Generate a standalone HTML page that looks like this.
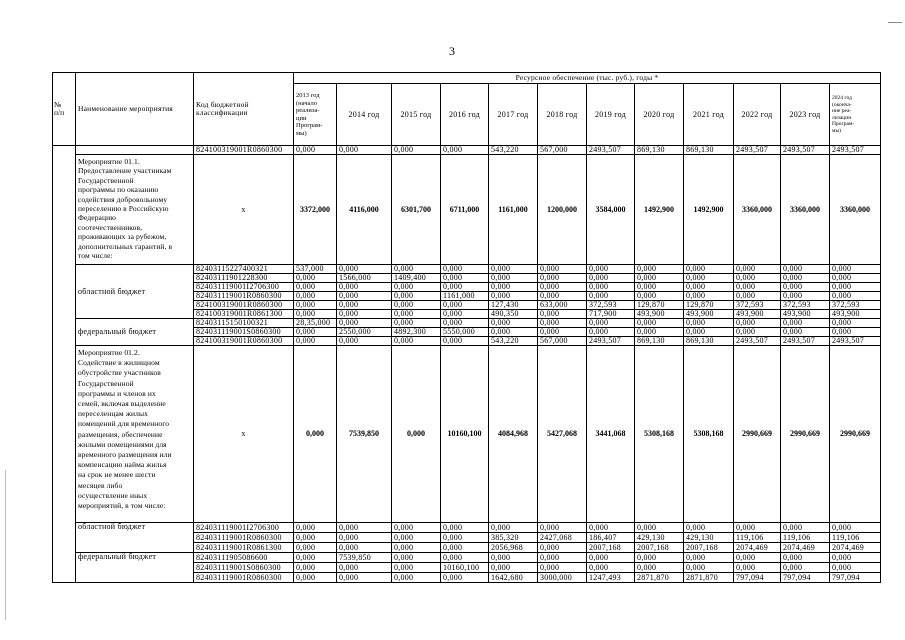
<!DOCTYPE html>
<html><head><meta charset="utf-8"><style>
body{margin:0;width:905px;height:640px;background:#fff;position:relative;overflow:hidden;font-family:"Liberation Serif",serif;color:#000}
table{position:absolute;left:52px;top:72px;border-collapse:collapse;table-layout:fixed;font-size:8px;letter-spacing:0.25px}
td{border:1px solid #000;padding:0 2px;overflow:hidden;white-space:nowrap;line-height:8px;vertical-align:middle}
.c{text-align:center}
.b{font-weight:bold;text-align:center;font-size:8px;letter-spacing:0}
.t td{height:8px}
.u td{height:9px}
</style></head><body>
<div style="position:absolute;left:449px;top:44px;font-size:12px">3</div>
<div style="position:absolute;left:888px;top:22px;width:14px;height:1px;background:#888"></div>
<table>
<colgroup><col style="width:23px"><col style="width:118px"><col style="width:100px"><col style="width:43px"><col style="width:55px"><col style="width:49px"><col style="width:48px"><col style="width:49px"><col style="width:49px"><col style="width:48px"><col style="width:49px"><col style="width:50px"><col style="width:47px"><col style="width:49px"><col style="width:51px"></colgroup>
<tr style="height:11px"><td rowspan="2" style="padding-left:1px;font-size:7.5px;letter-spacing:0">№<br>п/п</td><td rowspan="2" style="font-size:7.5px;letter-spacing:0.2px">Наименование мероприятия</td><td rowspan="2" style="font-size:7.5px;letter-spacing:0.2px">Код бюджетной<br>классификации</td><td colspan="12" class="c" style="font-size:7.5px;letter-spacing:0.2px">Ресурсное обеспечение (тыс. руб.), годы *</td></tr>
<tr style="height:62px"><td style="font-size:6.5px;line-height:7.5px;letter-spacing:0">2013 год<br>(начало<br>реализа-<br>ции<br>Програм-<br>мы)</td><td class="c">2014 год</td><td class="c">2015 год</td><td class="c">2016 год</td><td class="c">2017 год</td><td class="c">2018 год</td><td class="c">2019 год</td><td class="c">2020 год</td><td class="c">2021 год</td><td class="c">2022 год</td><td class="c">2023 год</td><td style="font-size:5.5px;line-height:6.5px;letter-spacing:0">2024 год<br>(оконча-<br>ние реа-<br>лизации<br>Програм-<br>мы)</td></tr>
<tr class="t"><td rowspan="18"></td><td style="border-top:none;border-bottom:none"></td><td>824100319001R0860300</td><td>0,000</td><td>0,000</td><td>0,000</td><td>0,000</td><td>543,220</td><td>567,000</td><td>2493,507</td><td>869,130</td><td>869,130</td><td>2493,507</td><td>2493,507</td><td>2493,507</td></tr>
<tr style="height:110px"><td style="line-height:9.4px;vertical-align:top;padding-top:2px;font-size:7.5px;letter-spacing:0.1px">Мероприятие 01.1.<br>Предоставление участникам<br>Государственной<br>программы по оказанию<br>содействия добровольному<br>переселению в Российскую<br>Федерацию<br>соотечественников,<br>проживающих за рубежом,<br>дополнительных гарантий, в<br>том числе:</td><td class="c">х</td><td class="b">3372,000</td><td class="b">4116,000</td><td class="b">6301,700</td><td class="b">6711,000</td><td class="b">1161,000</td><td class="b">1200,000</td><td class="b">3584,000</td><td class="b">1492,900</td><td class="b">1492,900</td><td class="b">3360,000</td><td class="b">3360,000</td><td class="b">3360,000</td></tr>
<tr class="t"><td rowspan="6">областной бюджет</td><td>82403115227400321</td><td>537,000</td><td>0,000</td><td>0,000</td><td>0,000</td><td>0,000</td><td>0,000</td><td>0,000</td><td>0,000</td><td>0,000</td><td>0,000</td><td>0,000</td><td>0,000</td></tr>
<tr class="t"><td>82403111901228300</td><td>0,000</td><td>1566,000</td><td>1409,400</td><td>0,000</td><td>0,000</td><td>0,000</td><td>0,000</td><td>0,000</td><td>0,000</td><td>0,000</td><td>0,000</td><td>0,000</td></tr>
<tr class="t"><td>824031119001I2706300</td><td>0,000</td><td>0,000</td><td>0,000</td><td>0,000</td><td>0,000</td><td>0,000</td><td>0,000</td><td>0,000</td><td>0,000</td><td>0,000</td><td>0,000</td><td>0,000</td></tr>
<tr class="t"><td>824031119001R0860300</td><td>0,000</td><td>0,000</td><td>0,000</td><td>1161,000</td><td>0,000</td><td>0,000</td><td>0,000</td><td>0,000</td><td>0,000</td><td>0,000</td><td>0,000</td><td>0,000</td></tr>
<tr class="t"><td>824100319001R0860300</td><td>0,000</td><td>0,000</td><td>0,000</td><td>0,000</td><td>127,430</td><td>633,000</td><td>372,593</td><td>129,870</td><td>129,870</td><td>372,593</td><td>372,593</td><td>372,593</td></tr>
<tr class="t"><td>824100319001R0861300</td><td>0,000</td><td>0,000</td><td>0,000</td><td>0,000</td><td>490,350</td><td>0,000</td><td>717,900</td><td>493,900</td><td>493,900</td><td>493,900</td><td>493,900</td><td>493,900</td></tr>
<tr class="t"><td rowspan="3">федеральный бюджет</td><td>82403115150100321</td><td>28,35,000</td><td>0,000</td><td>0,000</td><td>0,000</td><td>0,000</td><td>0,000</td><td>0,000</td><td>0,000</td><td>0,000</td><td>0,000</td><td>0,000</td><td>0,000</td></tr>
<tr class="t"><td>824031119001S0860300</td><td>0,000</td><td>2550,000</td><td>4892,300</td><td>5550,000</td><td>0,000</td><td>0,000</td><td>0,000</td><td>0,000</td><td>0,000</td><td>0,000</td><td>0,000</td><td>0,000</td></tr>
<tr class="t"><td>824100319001R0860300</td><td>0,000</td><td>0,000</td><td>0,000</td><td>0,000</td><td>543,220</td><td>567,000</td><td>2493,507</td><td>869,130</td><td>869,130</td><td>2493,507</td><td>2493,507</td><td>2493,507</td></tr>
<tr style="height:177px"><td style="line-height:10.2px;vertical-align:top;padding-top:2px;font-size:7.5px;letter-spacing:0.1px">Мероприятие 01.2.<br>Содействие в жилищном<br>обустройстве участников<br>Государственной<br>программы и членов их<br>семей, включая выделение<br>переселенцам жилых<br>помещений для временного<br>размещения, обеспечение<br>жилыми помещениями для<br>временного размещения или<br>компенсацию найма жилья<br>на срок не менее шести<br>месяцев либо<br>осуществление иных<br>мероприятий, в том числе:</td><td class="c">х</td><td class="b">0,000</td><td class="b">7539,850</td><td class="b">0,000</td><td class="b">10160,100</td><td class="b">4084,968</td><td class="b">5427,068</td><td class="b">3441,068</td><td class="b">5308,168</td><td class="b">5308,168</td><td class="b">2990,669</td><td class="b">2990,669</td><td class="b">2990,669</td></tr>
<tr class="u"><td rowspan="3" style="vertical-align:top">областной бюджет</td><td>824031119001I2706300</td><td>0,000</td><td>0,000</td><td>0,000</td><td>0,000</td><td>0,000</td><td>0,000</td><td>0,000</td><td>0,000</td><td>0,000</td><td>0,000</td><td>0,000</td><td>0,000</td></tr>
<tr class="u"><td>824031119001R0860300</td><td>0,000</td><td>0,000</td><td>0,000</td><td>0,000</td><td>385,320</td><td>2427,068</td><td>186,407</td><td>429,130</td><td>429,130</td><td>119,106</td><td>119,106</td><td>119,106</td></tr>
<tr class="u"><td>824031119001R0861300</td><td>0,000</td><td>0,000</td><td>0,000</td><td>0,000</td><td>2056,968</td><td>0,000</td><td>2007,168</td><td>2007,168</td><td>2007,168</td><td>2074,469</td><td>2074,469</td><td>2074,469</td></tr>
<tr class="u"><td rowspan="3" style="vertical-align:top">федеральный бюджет</td><td>82403111905086600</td><td>0,000</td><td>7539,850</td><td>0,000</td><td>0,000</td><td>0,000</td><td>0,000</td><td>0,000</td><td>0,000</td><td>0,000</td><td>0,000</td><td>0,000</td><td>0,000</td></tr>
<tr class="u"><td>824031119001S0860300</td><td>0,000</td><td>0,000</td><td>0,000</td><td>10160,100</td><td>0,000</td><td>0,000</td><td>0,000</td><td>0,000</td><td>0,000</td><td>0,000</td><td>0,000</td><td>0,000</td></tr>
<tr class="u"><td>824031119001R0860300</td><td>0,000</td><td>0,000</td><td>0,000</td><td>0,000</td><td>1642,680</td><td>3000,000</td><td>1247,493</td><td>2871,870</td><td>2871,870</td><td>797,094</td><td>797,094</td><td>797,094</td></tr>
</table>
<div style="position:absolute;left:5px;top:470px;width:1px;height:150px;background:#bbb"></div>
</body></html>
